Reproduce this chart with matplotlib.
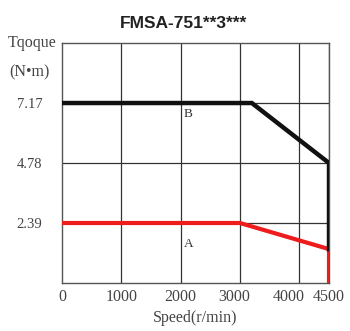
import matplotlib
matplotlib.use("Agg")
import matplotlib.pyplot as plt
from matplotlib.transforms import ScaledTranslation

# Data
speed_b = [0, 3200, 4500, 4500]
torque_b = [7.17, 7.17, 4.78, 1.35]
speed_a = [0, 3000, 4500, 4500]
torque_a = [2.39, 2.39, 1.35, 0]
x_ticks = [0, 1000, 2000, 3000, 4000, 4500]
y_ticks = [2.39, 4.78, 7.17]
y_max = 9.56

SERIF = "Liberation Serif"
GREY = "#444444"

fig = plt.figure(figsize=(3.5, 3.31), dpi=100)
ax = fig.add_axes([0.177, 0.145, 0.763, 0.725])

ax.set_xlim(0, 4500)
ax.set_ylim(0, y_max)
for x in x_ticks[1:]:
    ax.axvline(x, color="#333333", lw=0.9, zorder=1)
for y in y_ticks:
    ax.axhline(y, color="#333333", lw=0.9, zorder=1)

ax.plot(speed_a, torque_a, color="#ee1c1c", lw=3.0, solid_joinstyle="miter", zorder=3)
ax.plot(speed_b, torque_b, color="#111111", lw=3.2, solid_joinstyle="miter", zorder=4)

ax.text(2050, 6.75, "B", fontsize=9.5, family=SERIF, color="#333333",
        ha="left", va="center")
ax.text(2050, 1.55, "A", fontsize=9.5, family=SERIF, color="#333333",
        ha="left", va="center")

for s in ax.spines.values():
    s.set_color("#555555")
    s.set_linewidth(1.0)

ax.set_xticks(x_ticks)
ax.set_xticklabels([str(v) for v in x_ticks], family=SERIF, fontsize=11.5, color=GREY)
ax.set_yticks(y_ticks)
ax.set_yticklabels([f"{v:.2f}" for v in y_ticks], family=SERIF, fontsize=10.5, color=GREY)
ax.tick_params(length=0, pad=4)
ax.tick_params(axis="y", pad=14)

# nudge crowded x labels like the reference
shifts = {3000: -6, 4000: -11}
for val, lab in zip(x_ticks, ax.get_xticklabels()):
    if val in shifts:
        lab.set_transform(lab.get_transform() +
                          ScaledTranslation(shifts[val] / 100, 0, fig.dpi_scale_trans))

ax.set_xlabel("Speed(r/min)", family=SERIF, fontsize=11.5, color=GREY, labelpad=4)
fig.text(0.523, 0.93, "FMSA-751**3***", family="Liberation Sans", fontweight="bold",
         fontsize=12.5, color="#222222", ha="center", va="center")

fig.text(0.093, 0.87, "Tqoque", family=SERIF, fontsize=11.5, color=GREY,
         ha="center", va="center")
fig.text(0.085, 0.782, "(N•m)", family=SERIF, fontsize=11.5, color=GREY,
         ha="center", va="center")

fig.savefig("out.png", dpi=100)
